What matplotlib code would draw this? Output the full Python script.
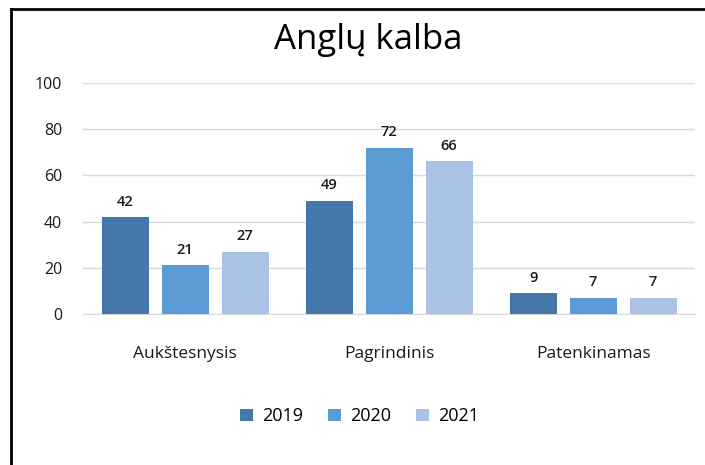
import matplotlib
matplotlib.use("Agg")
import matplotlib.pyplot as plt
import numpy as np
from matplotlib.lines import Line2D

categories = ["Aukštesnysis", "Pagrindinis", "Patenkinamas"]
years = ["2019", "2020", "2021"]
v2019 = [42, 49, 9]
v2020 = [21, 72, 7]
v2021 = [27, 66, 7]
yticks = [0, 20, 40, 60, 80, 100]

colors = ["#4677AC", "#5B9BD5", "#A8C3E5"]
plt.rcParams['font.family'] = ['Open Sans', 'DejaVu Sans']

fig = plt.figure(figsize=(7.05, 4.65), dpi=100)
ax = fig.add_axes([0.118, 0.325, 0.868, 0.4965])

x = np.arange(len(categories))
w = 0.23
step = 0.294
series = [v2019, v2020, v2021]
for i, (vals, c, yr) in enumerate(zip(series, colors, years)):
    bars = ax.bar(x + (i - 1) * step, vals, width=w, color=c, label=yr, zorder=3)
    for b, v in zip(bars, vals):
        ax.annotate(str(v), (b.get_x() + b.get_width() / 2, v), xytext=(0, 6),
                    textcoords="offset points", ha="center", va="bottom",
                    fontsize=10.5, color="#1a1a1a", fontweight="semibold")

ax.set_xlim(-0.5, 2.5)
ax.set_ylim(0, 100)
ax.set_yticks(yticks)
ax.set_yticklabels([str(t) for t in yticks], fontsize=11.5, color="#1a1a1a")
ax.set_xticks(x)
ax.set_xticklabels(categories, fontsize=12.5, color="#1a1a1a")
ax.tick_params(axis='both', length=0)
ax.tick_params(axis='x', pad=23)
ax.tick_params(axis='y', pad=15)
ax.grid(axis='y', color="#D9D9D9", linewidth=1, zorder=0)
for s in ["top", "right", "left"]:
    ax.spines[s].set_visible(False)
ax.spines["bottom"].set_color("#D9D9D9")

fig.text(0.522, 0.915, "Anglų kalba", ha="center", va="center", fontsize=25, color="#000000")

fig.legend(loc="center", bbox_to_anchor=(0.51, 0.105), ncol=3, frameon=False,
           fontsize=13, handlelength=0.7, handleheight=0.7, handletextpad=0.5,
           columnspacing=1.4)

# black frame lines (top and left)
fig.add_artist(Line2D([0.016, 1.0], [0.981, 0.981], transform=fig.transFigure, color="black", linewidth=2))
fig.add_artist(Line2D([0.016, 0.016], [0.0, 0.981], transform=fig.transFigure, color="black", linewidth=2))

fig.savefig("out.png", dpi=100)
